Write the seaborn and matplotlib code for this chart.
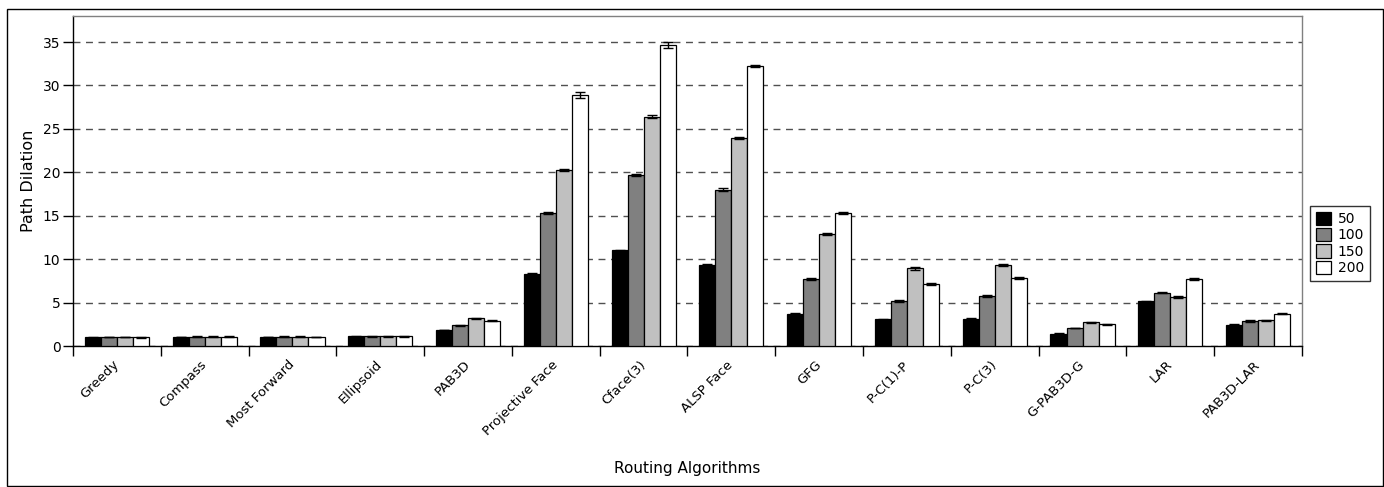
import matplotlib
matplotlib.use("Agg")
import matplotlib.pyplot as plt
import matplotlib.patches as mpatches
import seaborn as sns
import pandas as pd
import numpy as np

algorithms = ["Greedy", "Compass", "Most Forward", "Ellipsoid", "PAB3D",
              "Projective Face", "Cface(3)", "ALSP Face", "GFG", "P-C(1)-P",
              "P-C(3)", "G-PAB3D-G", "LAR", "PAB3D-LAR"]
sizes = ["50", "100", "150", "200"]

v50 = [1.0, 1.05, 1.05, 1.1, 1.85, 8.3, 11.0, 9.35, 3.7, 3.1, 3.15, 1.42, 5.15, 2.46]
v100 = [1.02, 1.08, 1.08, 1.1, 2.4, 15.3, 19.7, 18.0, 7.75, 5.2, 5.78, 2.07, 6.15, 2.88]
v150 = [1.02, 1.08, 1.08, 1.1, 3.2, 20.3, 26.4, 24.0, 12.9, 8.95, 9.35, 2.76, 5.68, 2.96]
v200 = [1.0, 1.08, 1.05, 1.1, 2.9, 28.9, 34.7, 32.2, 15.3, 7.1, 7.8, 2.53, 7.68, 3.72]

e50 = [0.03, 0.03, 0.03, 0.03, 0.05, 0.08, 0.1, 0.1, 0.06, 0.06, 0.08, 0.04, 0.08, 0.05]
e100 = [0.03, 0.03, 0.03, 0.03, 0.06, 0.15, 0.15, 0.15, 0.1, 0.1, 0.1, 0.05, 0.1, 0.06]
e150 = [0.03, 0.03, 0.03, 0.03, 0.06, 0.12, 0.15, 0.12, 0.15, 0.15, 0.15, 0.06, 0.1, 0.06]
e200 = [0.03, 0.03, 0.03, 0.03, 0.06, 0.3, 0.35, 0.1, 0.15, 0.1, 0.1, 0.06, 0.12, 0.06]

values = {"50": v50, "100": v100, "150": v150, "200": v200}
errors = {"50": e50, "100": e100, "150": e150, "200": e200}
colors = ["#000000", "#808080", "#c0c0c0", "#ffffff"]

rows = []
for s in sizes:
    for a, v in zip(algorithms, values[s]):
        rows.append({"alg": a, "size": s, "val": v})
df = pd.DataFrame(rows)

sns.set_theme(style="white")
plt.rcParams["font.family"] = ["DejaVu Sans"]
plt.rcParams["text.color"] = "black"
plt.rcParams["axes.labelcolor"] = "black"
plt.rcParams["xtick.color"] = "black"
plt.rcParams["ytick.color"] = "black"

fig = plt.figure(figsize=(13.84, 4.87), dpi=100)
ax = fig.add_axes([73 / 1384, 1 - 346 / 487, (1302 - 73) / 1384, 330 / 487])

sns.barplot(data=df, x="alg", y="val", hue="size", order=algorithms,
            hue_order=sizes, palette=colors, saturation=1, errorbar=None,
            width=0.73, edgecolor="black", linewidth=0.9, ax=ax, zorder=3)

for s, cont in zip(sizes, ax.containers):
    xs = [p.get_x() + p.get_width() / 2 for p in cont]
    hs = [p.get_height() for p in cont]
    ax.errorbar(xs, hs, yerr=errors[s], fmt="none", ecolor="black",
                elinewidth=1, capsize=3.5, capthick=1, zorder=4)

leg = ax.get_legend()
if leg is not None:
    leg.remove()

ax.set_xlim(-0.5, len(algorithms) - 0.5)
ax.set_ylim(0, 38.0)
ax.set_yticks(range(0, 40, 5))
ax.yaxis.grid(True, linestyle=(0, (5, 4)), color="#505050", linewidth=1, zorder=0)
ax.xaxis.grid(False)
ax.set_axisbelow(True)

ax.set_xticks(range(len(algorithms)))
ax.set_xticklabels(algorithms, rotation=45, ha="right", va="center",
                   rotation_mode="anchor", fontsize=9.5)
ax.set_xticks(np.arange(-0.5, len(algorithms), 1.0), minor=True)
ax.tick_params(axis="x", which="major", length=0, pad=12)
ax.tick_params(axis="x", which="minor", length=7, width=1, color="black", direction="out")
ax.tick_params(axis="y", length=7, width=1, color="black", direction="out", labelsize=10, pad=2)
ax.xaxis.set_ticks_position("bottom")
ax.yaxis.set_ticks_position("left")

for side in ["left", "bottom"]:
    ax.spines[side].set_color("black")
    ax.spines[side].set_linewidth(1)
for side in ["top", "right"]:
    ax.spines[side].set_color("#808080")
    ax.spines[side].set_linewidth(1)

ax.set_xlabel("Routing Algorithms", fontsize=11)
ax.set_ylabel("Path Dilation", fontsize=11.5, labelpad=5)
ax.xaxis.set_label_coords(0.5, (469 - 346) / -330.0, transform=ax.transAxes)
ax.xaxis.label.set_va("center")

handles = [mpatches.Patch(facecolor=c, edgecolor="black", linewidth=0.9) for c in colors]
fig.legend(handles, sizes, loc="upper left", bbox_to_anchor=(1310 / 1384, 1 - 206 / 487),
           frameon=True, fancybox=False, edgecolor="black", fontsize=10,
           handlelength=1.1, handleheight=1.1, handletextpad=0.5, borderpad=0.4,
           labelspacing=0.15, borderaxespad=0)

fig.patches.append(mpatches.Rectangle((7 / 1384, 1 / 487), (1383 - 7) / 1384, (486 - 9) / 487,
                                      transform=fig.transFigure,
                                      fill=False, edgecolor="black", linewidth=1))

fig.savefig("out.png", dpi=100)
